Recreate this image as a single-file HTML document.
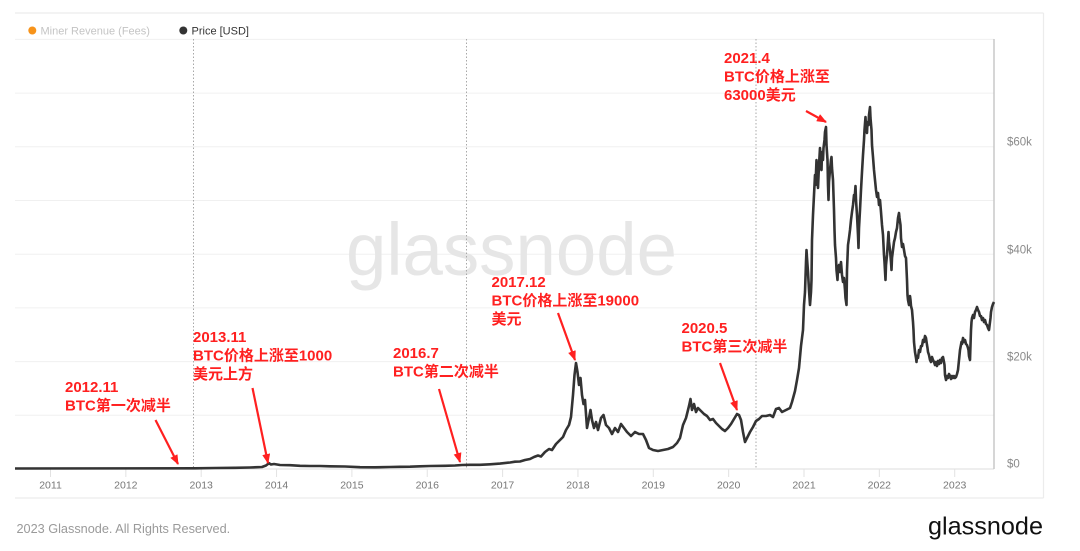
<!DOCTYPE html>
<html>
<head>
<meta charset="utf-8">
<style>
html,body{margin:0;padding:0;background:#fff;}
svg{display:block;}
.ann{font-family:"Liberation Sans","Noto Sans CJK SC",sans-serif;font-weight:bold;font-size:15px;fill:#ff2020;}
.yl{font-family:"Liberation Sans",sans-serif;font-size:11.5px;fill:#8a8a8a;}
.xl{font-family:"Liberation Sans",sans-serif;font-size:10.5px;fill:#777;text-anchor:middle;}
</style>
</head>
<body>
<svg width="1080" height="551" viewBox="0 0 1080 551" xmlns="http://www.w3.org/2000/svg">
<defs>
<marker id="ah" markerUnits="userSpaceOnUse" markerWidth="10" markerHeight="8" refX="9" refY="4" orient="auto">
<path d="M0,0 L10,4 L0,8 z" fill="#ff2020"/>
</marker>
</defs>
<rect width="1080" height="551" fill="#fff"/>
<!-- panel borders -->
<line x1="15" y1="13" x2="1043.5" y2="13" stroke="#ececec" stroke-width="1.2"/>
<line x1="1043.5" y1="13" x2="1043.5" y2="498" stroke="#ececec" stroke-width="1.2"/>
<line x1="15" y1="498" x2="1043.5" y2="498" stroke="#ececec" stroke-width="1.2"/>

<!-- legend -->
<circle cx="32.3" cy="30.5" r="4" fill="#f7931a"/>
<text x="40.5" y="34.5" font-family="Liberation Sans, sans-serif" font-size="11" fill="#c4c4c4">Miner Revenue (Fees)</text>
<circle cx="183.3" cy="30.5" r="4" fill="#333"/>
<text x="191.5" y="34.5" font-family="Liberation Sans, sans-serif" font-size="11" fill="#333">Price [USD]</text>

<!-- gridlines -->
<g stroke="#f0f0f0" stroke-width="1">
<line x1="15" y1="39.4" x2="994" y2="39.4"/>
<line x1="15" y1="93.1" x2="994" y2="93.1"/>
<line x1="15" y1="146.8" x2="994" y2="146.8"/>
<line x1="15" y1="200.5" x2="994" y2="200.5"/>
<line x1="15" y1="254.2" x2="994" y2="254.2"/>
<line x1="15" y1="307.9" x2="994" y2="307.9"/>
<line x1="15" y1="361.6" x2="994" y2="361.6"/>
<line x1="15" y1="415.3" x2="994" y2="415.3"/>
</g>

<!-- watermark -->
<text x="346" y="275" font-family="Liberation Sans, sans-serif" font-size="74" fill="#e6e6e6" textLength="331" lengthAdjust="spacingAndGlyphs">glassnode</text>

<!-- x axis -->
<line x1="15" y1="469" x2="994" y2="469" stroke="#dddddd" stroke-width="1"/>
<g stroke="#e2e2e2" stroke-width="1">
<line x1="50.5" y1="469" x2="50.5" y2="477"/>
<line x1="125.85" y1="469" x2="125.85" y2="477"/>
<line x1="201.2" y1="469" x2="201.2" y2="477"/>
<line x1="276.55" y1="469" x2="276.55" y2="477"/>
<line x1="351.9" y1="469" x2="351.9" y2="477"/>
<line x1="427.25" y1="469" x2="427.25" y2="477"/>
<line x1="502.6" y1="469" x2="502.6" y2="477"/>
<line x1="577.95" y1="469" x2="577.95" y2="477"/>
<line x1="653.3" y1="469" x2="653.3" y2="477"/>
<line x1="728.65" y1="469" x2="728.65" y2="477"/>
<line x1="804" y1="469" x2="804" y2="477"/>
<line x1="879.35" y1="469" x2="879.35" y2="477"/>
<line x1="954.7" y1="469" x2="954.7" y2="477"/>
</g>
<g class="xl">
<text x="50.5" y="488.5">2011</text>
<text x="125.85" y="488.5">2012</text>
<text x="201.2" y="488.5">2013</text>
<text x="276.55" y="488.5">2014</text>
<text x="351.9" y="488.5">2015</text>
<text x="427.25" y="488.5">2016</text>
<text x="502.6" y="488.5">2017</text>
<text x="577.95" y="488.5">2018</text>
<text x="653.3" y="488.5">2019</text>
<text x="728.65" y="488.5">2020</text>
<text x="804" y="488.5">2021</text>
<text x="879.35" y="488.5">2022</text>
<text x="954.7" y="488.5">2023</text>
</g>

<!-- right axis -->
<line x1="994" y1="39" x2="994" y2="469" stroke="#c8c8c8" stroke-width="1.5"/>
<g class="yl">
<text x="1007" y="145.5">$60k</text>
<text x="1007" y="253.5">$40k</text>
<text x="1007" y="360.5">$20k</text>
<text x="1007" y="467.5">$0</text>
</g>

<!-- halving dotted lines -->
<g stroke="#a8a8a8" stroke-width="1" stroke-dasharray="1.5 2">
<line x1="193.5" y1="39" x2="193.5" y2="469"/>
<line x1="466.5" y1="39" x2="466.5" y2="469"/>
<line x1="756" y1="39" x2="756" y2="469"/>
</g>

<!-- price series -->
<polyline fill="none" stroke="#333" stroke-width="2.6" stroke-linejoin="round" points="
15,468.5 195,468.3 215,468 235,467.8 250,467.5 262,467 266,465.5 269,463.2 271,464.5 274,464 280,465 290,465.2 300,465.8 310,466 320,466 330,466.3 345,466.5 360,467.2 375,467.3 390,467 400,466.8 410,466.7 420,466.3 430,466 445,465.8 455,465.5 462,465 470,464.8 480,464.8 490,464.3 500,463.6 510,462.5 515,461.7 520,461.5 525,460 530,459 534,457 538,455.5 541,456.5 545,452 549,449 552,450 556,444 560,440 563,437 566,430 569,425 571,417 573,395 574.5,375 576,363 577.5,372 579,385 580.5,378 582,395 583.5,404 585,400 587,428 589,418 590.5,410 592,420 594,428 596,422 598,430 601,418 603.5,415 606,425 609,428 612,434 615,428 618,432 621,424 624,428 627,432 631,436 635,432 639,434 643,434 646,440 649,448 653,450 658,451 663,450 668,449 673,447 677,443 680,438 683,425 686,418 689,406 690.5,399 692,410 694,404 696,412 698,408 701,411 704,414 707,416 710,420 713,419 716,423 719,426 722,429 725,431 728,428 731,424 734,419 737,414 739,415 741,420 743,432 745,442 747,438 750,432 753,427 756,421 759,419 762,416 766,416 770,415 773,417 776,409 779,408 782,412 786,410 790,408 792,402 795,391 797,380 799,368 801,346 802,338 803,330 804,305 805,292 806,262 806.5,250 807,258 808,272 809,290 810,305 811,292 811.5,280 812,240 813,215 814,195 815,175 815.5,185 816.5,160 817,172 818,188 819,165 820,148 821,168 821.5,170 822,152 823,160 823.5,148 824.5,140 825,132 826,127 826.5,145 827.5,160 828,185 828.5,200 829,182 830,170 831,160 831.5,157 832,168 833,180 834,210 834.5,230 835,245 836,258 836.5,270 837.5,280 838,268 839,265 840,272 841,262 842,275 843,282 844,278 845,290 845.5,298 846.5,305 847,270 848,245 849,238 850,230 851,220 852,212 853,205 854,195 854.5,200 855.5,186 856,200 857,215 858,235 858.5,248 859,228 860,210 861,190 862,172 863,155 864,140 864.5,130 865.5,117 866,128 867,133 867.5,122 868.5,125 869,115 870,107 870.5,118 871.5,130 872,145 873,157 874,170 875,180 876,190 877,197 878,193 879,205 880,200 881,212 882,225 883,235 884,255 884.5,262 885.5,280 886,265 887,255 888,240 888.5,232 889,242 890,250 891,262 891.5,270 892,258 893,250 894,242 895,238 896,232 897,228 898,218 899,213 899.5,218 900.5,225 901,238 902,247 903,244 904,250 905,256 906,258 907,280 907.5,295 908,300 909,305 910,296 910.5,300 911,306 912,310 913,322 913.5,330 914,342 915,352 916,358 916.5,362 917,356 918,358 919,350 920,352 921,346 922,346 923,340 924,342 925,336 926,338 927,345 927.5,348 928,352 929,355 930,360 931,362 932,357 933,360 934,362 935,365 936,362 937,366 938,361 939,364 940,360 941,363 942,358 943,357 944,362 944.5,365 945,375 946,380 947,376 948,378 949,374 950,376 951,379 952,376 953,378 954,376 955,378 956,377 957,374 958,370 959,360 959.5,355 960,350 961.5,342 962,344 963,338 964,342 965,340 966,344 967,345 968,348 968.5,350 969,356 970,360 971,330 971.5,322 972,318 973,315 974,318 975,312 976,310 977,307 978,310 979,312 980,316 981,316 982,320 983,318 984,322 985,320 986,324 987,325 988,328 989,330 990,322 990.5,318 991,312 992,307 993,304 994,302"/>

<!-- annotations -->
<g stroke="#ff2020" stroke-width="2.2" fill="none" marker-end="url(#ah)">
<line x1="155.5" y1="420" x2="178" y2="464"/>
<line x1="252.5" y1="388" x2="268" y2="463"/>
<line x1="439" y1="389" x2="460" y2="462"/>
<line x1="558" y1="313" x2="575" y2="360"/>
<line x1="720" y1="363" x2="737" y2="410"/>
<line x1="806" y1="111" x2="826" y2="122"/>
</g>
<g class="ann">
<text x="65" y="392">2012.11</text>
<text x="65" y="410.5">BTC第一次减半</text>
<text x="193" y="342">2013.11</text>
<text x="193" y="360.5">BTC价格上涨至1000</text>
<text x="193" y="379">美元上方</text>
<text x="393" y="358">2016.7</text>
<text x="393" y="376.5">BTC第二次减半</text>
<text x="491.5" y="287">2017.12</text>
<text x="491.5" y="305.5">BTC价格上涨至19000</text>
<text x="491.5" y="324">美元</text>
<text x="681.5" y="333">2020.5</text>
<text x="681.5" y="351.5">BTC第三次减半</text>
<text x="724" y="63">2021.4</text>
<text x="724" y="81.5">BTC价格上涨至</text>
<text x="724" y="100">63000美元</text>
</g>

<!-- footer -->
<text x="16.5" y="533" font-family="Liberation Sans, sans-serif" font-size="12.7" fill="#9a9a9a">2023 Glassnode. All Rights Reserved.</text>
<text x="928" y="534.5" font-family="Liberation Sans, sans-serif" font-size="25" fill="#111" textLength="115" lengthAdjust="spacingAndGlyphs">glassnode</text>
</svg>
</body>
</html>
